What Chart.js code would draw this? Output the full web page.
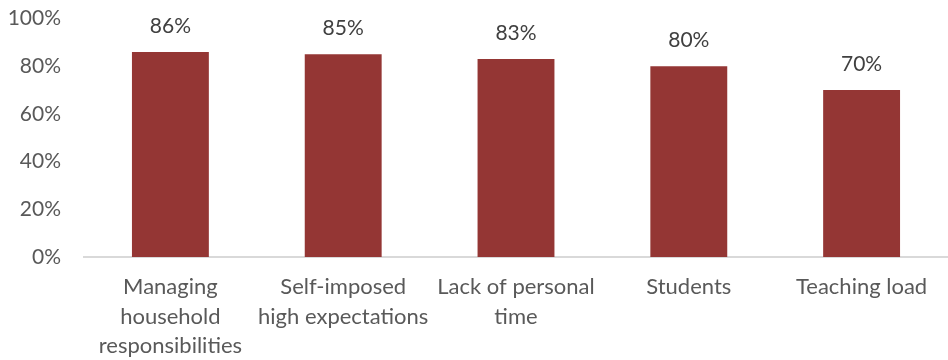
<!DOCTYPE html>
<html>
<head>
<meta charset="utf-8">
<script src="https://cdn.jsdelivr.net/npm/chart.js@4"></script>
<style>
  html, body { margin: 0; padding: 0; background: #fff; }
  #wrap { width: 948px; height: 360px; position: relative; }
</style>
</head>
<body>
<div id="wrap"><canvas id="c"></canvas></div>
<script>
const categories = [
  ['Managing', 'household', 'responsibilities'],
  ['Self-imposed', 'high expectations'],
  ['Lack of personal', 'time'],
  'Students',
  'Teaching load'
];
const values = [86, 85, 83, 80, 70];
const yTicks = [0, 20, 40, 60, 80, 100];

const FONT = 'Lato, "Noto Sans", sans-serif';

const valueLabels = {
  id: 'valueLabels',
  afterDatasetsDraw(chart) {
    const ctx = chart.ctx;
    const meta = chart.getDatasetMeta(0);
    ctx.save();
    ctx.font = '21px ' + FONT;
    ctx.fillStyle = '#404040';
    ctx.textAlign = 'center';
    ctx.textBaseline = 'middle';
    meta.data.forEach((bar, i) => {
      ctx.fillText(values[i] + '%', bar.x, bar.y - 26);
    });
    ctx.restore();
  }
};

new Chart(document.getElementById('c'), {
  type: 'bar',
  data: {
    labels: categories,
    datasets: [{
      data: values,
      backgroundColor: '#943634',
      borderWidth: 0,
      barPercentage: 0.445,
      categoryPercentage: 1.0
    }]
  },
  options: {
    responsive: true,
    maintainAspectRatio: false,
    animation: false,
    layout: { padding: { top: 18.5, right: 0, left: 0, bottom: 0 } },
    plugins: { legend: { display: false }, tooltip: { enabled: false } },
    scales: {
      x: {
        grid: { display: false, drawTicks: false },
        border: { display: true, color: '#d9d9d9', width: 2 },
        ticks: {
          color: '#595959',
          font: { family: FONT, size: 22, lineHeight: 1.35 },
          padding: 15,
          maxRotation: 0,
          autoSkip: false
        },
        afterFit(scale) { scale.height = 103; scale.paddingLeft = 0; scale.paddingRight = 0; }
      },
      y: {
        min: 0, max: 100,
        afterBuildTicks(scale) { scale.ticks = yTicks.map(v => ({ value: v })); },
        grid: { display: false, drawTicks: false },
        border: { display: false },
        ticks: {
          color: '#595959',
          font: { family: FONT, size: 21 },
          padding: 23,
          callback: v => v + '%'
        },
        afterFit(scale) { scale.width = 84; scale.paddingTop = 0; scale.paddingBottom = 0; }
      }
    }
  },
  plugins: [valueLabels]
});
</script>
</body>
</html>
